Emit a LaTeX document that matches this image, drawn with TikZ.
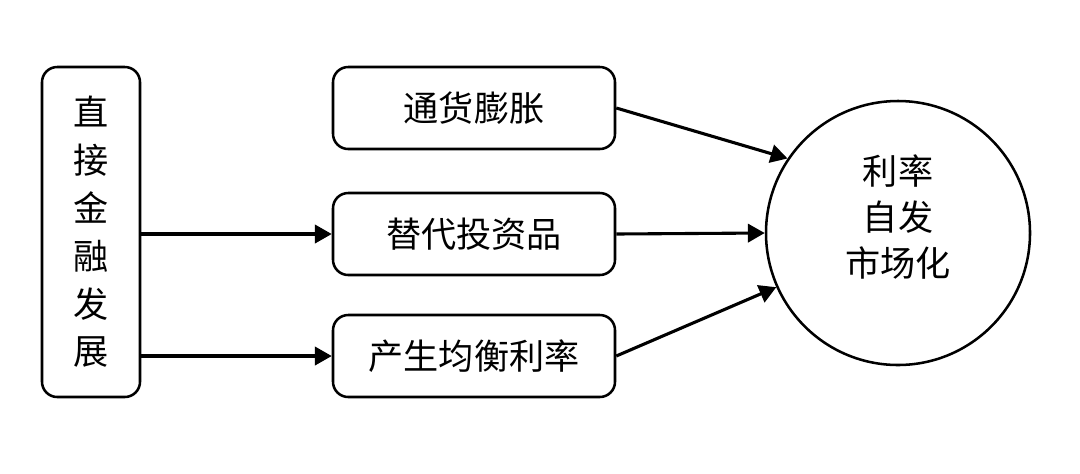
\documentclass[tikz,border=0pt]{standalone}
\usepackage{fontspec}
\setmainfont{Noto Sans CJK SC}
\usepackage{tikz}
\usetikzlibrary{arrows.meta,positioning}

\begin{document}
\begin{tikzpicture}[>={Triangle[length=12pt,width=13pt]},
    every node/.style={align=center,font=\fontsize{25}{34}\selectfont},
    box/.style={draw,line width=1.8pt,rounded corners=0.38cm},
    jiantou/.style={->,line width=2.2pt}]
    \useasboundingbox (0,0) rectangle (27,-11.825);
    \node[box,minimum width=2.45cm,minimum height=8.25cm] (zhijie) at (2.275,-5.8)
      {直\\接\\金\\融\\发\\展};
    \node[box,minimum width=7.05cm,minimum height=2.05cm] (tonghuo) at (11.85,-2.7) {通货膨胀};
    \node[box,minimum width=7.05cm,minimum height=2.05cm] (tidai) at (11.85,-5.85) {替代投资品};
    \node[box,minimum width=7.05cm,minimum height=2.05cm] (junheng) at (11.85,-8.9) {产生均衡利率};
    \node[draw,circle,line width=1.8pt,minimum size=6.6cm] (lilv) at (22.45,-5.825) {};
    \node[font=\fontsize{25}{33}\selectfont] (lilvwenzi) at ([yshift=0.4cm]lilv.center)
      {利率\\自发\\市场化};
    \draw[jiantou] (zhijie.east |- tidai.west) -- (tidai.west);
    \draw[jiantou] (zhijie.east |- junheng.west) -- (junheng.west);
    \draw[jiantou] (tonghuo.east) -- (lilv.146);
    \draw[jiantou] (tidai.east) -- (lilv.west);
    \draw[jiantou] (junheng.east) -- (lilv.204);
  \end{tikzpicture}
\end{document}
